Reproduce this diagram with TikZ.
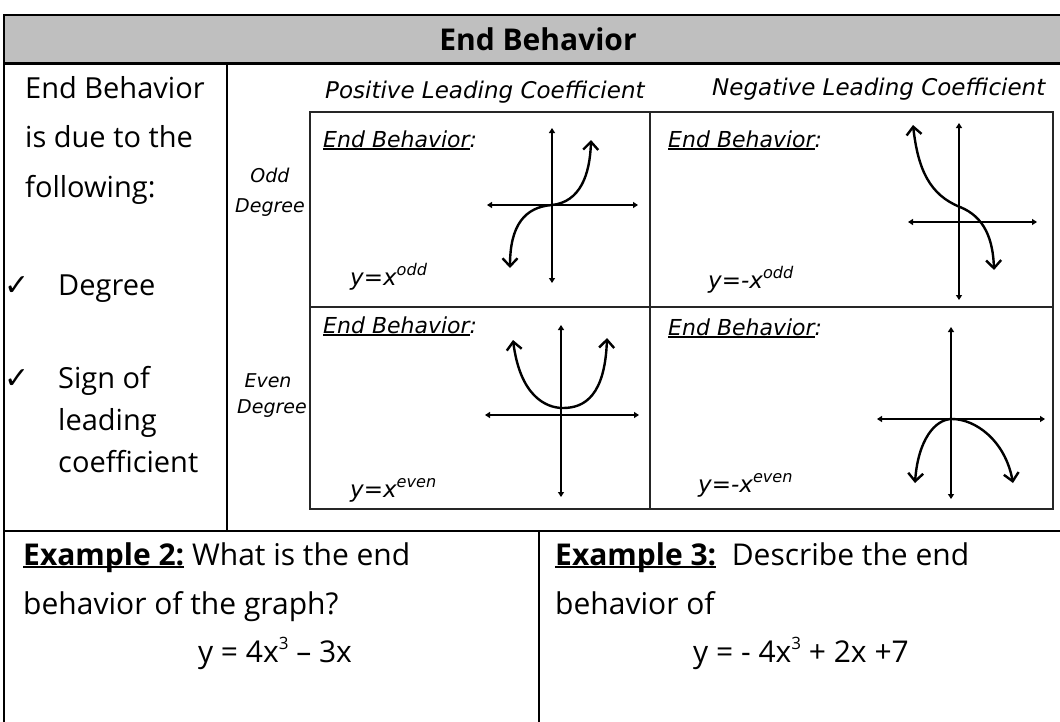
\documentclass[tikz,border=0pt]{standalone}
\usepackage{fontspec}
\setmainfont{Open Sans}
\newfontfamily\handfont{DejaVu Sans Oblique}
\newfontfamily\symfont{DejaVu Sans}
\usetikzlibrary{arrows.meta}
\definecolor{headgray}{HTML}{BFBFBF}
\newcommand{\ulx}[1]{\setbox0\hbox{#1}\rlap{\rule[-3pt]{\wd0}{1.6pt}}\box0}
\newcommand{\cube}{\raisebox{0.75ex}{\fontsize{17}{17}\selectfont 3}}

\begin{document}
\begin{tikzpicture}[
    x=1pt, y=-1pt,
    rule/.style={line width=2.4pt, black},
    gridline/.style={line width=2pt, black!85},
    axis/.style={line width=1.8pt, {Triangle[length=5pt,width=6pt]}-{Triangle[length=5pt,width=6pt]}},
    curve/.style={line width=2.4pt, {Straight Barb[length=8pt,width=15pt]}-{Straight Barb[length=8pt,width=15pt]}},
    body/.style={font=\fontsize{29}{34}\selectfont, anchor=base west, inner sep=0pt},
    chk/.style={font=\symfont\fontsize{30}{34}\selectfont, anchor=base west, inner sep=0pt},
    hand/.style={font=\handfont\fontsize{22}{26}\selectfont, inner sep=0pt},
    handsmall/.style={font=\handfont\fontsize{19}{23}\selectfont, anchor=base, inner sep=0pt}
]
    \useasboundingbox (0,0) rectangle (1060,721);

    % Table frame
    \fill[headgray] (4,15) rectangle (1075,63.5);
    \draw[rule] (1075,15) -- (4,15) -- (4,730);
    \draw[rule] (4,63.5) -- (1075,63.5);
    \draw[rule] (4,531) -- (1075,531);
    \draw[rule] (227,63.5) -- (227,531);
    \draw[rule] (539,531) -- (539,730);

    % Title
    \node[font=\bfseries\fontsize{30}{36}\selectfont, anchor=base, inner sep=0pt] (title) at (538,50) {End Behavior};

    % Left column
    \node[body] (l1) at (25,98) {End Behavior};
    \node[body] (l2) at (25,147) {is due to the};
    \node[body] (l3) at (25,197) {following:};
    \node[chk] (c1) at (4,295) {✓};
    \node[body] (l4) at (58,295) {Degree};
    \node[chk] (c2) at (4,388) {✓};
    \node[body] (l5) at (58,388) {Sign of};
    \node[body] (l6) at (58,430) {leading};
    \node[body] (l7) at (58,472) {coefficient};

    % Inner grid
    \draw[gridline] (310,112) rectangle (1053,509);
    \draw[gridline] (650,112) -- (650,509);
    \draw[gridline] (310,307) -- (1053,307);

    % Row and column headings
    \node[hand, font=\handfont\fontsize{23}{27}\selectfont, anchor=base west] (pos) at (325,98) {Positive Leading Coefficient};
    \node[hand, font=\handfont\fontsize{23}{27}\selectfont, anchor=base west] (neg) at (712,95) {Negative Leading Coefficient};
    \node[handsmall] (odd) at (270,182) {Odd};
    \node[handsmall] (odddeg) at (270,212) {Degree};
    \node[handsmall] (even) at (268,387) {Even};
    \node[handsmall] (evendeg) at (272,413) {Degree};

    % Cell labels
    \node[hand, anchor=base west] (eb1) at (323,147) {\ulx{End Behavior}:};
    \node[hand, anchor=base west] (eb2) at (668,147) {\ulx{End Behavior}:};
    \node[hand, anchor=base west] (eb3) at (323,333) {\ulx{End Behavior}:};
    \node[hand, anchor=base west] (eb4) at (668,335) {\ulx{End Behavior}:};
    \node[hand, font=\handfont\fontsize{23}{27}\selectfont, anchor=base west] (f1) at (350,285) {y=x\textsuperscript{odd}};
    \node[hand, font=\handfont\fontsize{23}{27}\selectfont, anchor=base west] (f2) at (708,288) {y=-x\textsuperscript{odd}};
    \node[hand, font=\handfont\fontsize{23}{27}\selectfont, anchor=base west] (f3) at (350,497) {y=x\textsuperscript{even}};
    \node[hand, font=\handfont\fontsize{23}{27}\selectfont, anchor=base west] (f4) at (698,492) {y=-x\textsuperscript{even}};

    % Graphs
    \draw[axis] (487,205) -- (638,205);
    \draw[axis] (552,128) -- (552,283);
    \draw[curve] (510,268) .. controls (510,225) and (525,207) .. (552,205) .. controls (580,202) and (590,175) .. (591,140);

    \draw[axis] (908,222) -- (1037,222);
    \draw[axis] (959,123) -- (959,300);
    \draw[curve] (913,125) .. controls (918,170) and (930,195) .. (960,207) .. controls (985,217) and (993,240) .. (994,270);

    \draw[axis] (485,415) -- (639,415);
    \draw[axis] (561,325) -- (561,497);
    \draw[curve] (513,340) .. controls (520,395) and (545,408) .. (563,408) .. controls (585,408) and (605,395) .. (607,338);

    \draw[axis] (877,419) -- (1045,419);
    \draw[axis] (951,327) -- (951,499);
    \draw[curve] (915,483) .. controls (918,440) and (935,419) .. (952,419) .. controls (975,419) and (1005,440) .. (1013,483);

    % Examples
    \node[body, font=\fontsize{30}{36}\selectfont] (ex2a) at (23,565) {\textbf{\ulx{Example 2:}} What is the end};
    \node[body, font=\fontsize{30}{36}\selectfont] (ex2b) at (23,614) {behavior of the graph?};
    \node[body, font=\fontsize{30}{36}\selectfont, anchor=base] (eq2) at (275,662) {y = 4x\cube{} – 3x};
    \node[body, font=\fontsize{30}{36}\selectfont] (ex3a) at (555,565) {\textbf{\ulx{Example 3:}}\ \ Describe the end};
    \node[body, font=\fontsize{30}{36}\selectfont] (ex3b) at (555,614) {behavior of};
    \node[body, font=\fontsize{30}{36}\selectfont, anchor=base] (eq3) at (801,662) {y = - 4x\cube{} + 2x +7};
\end{tikzpicture}
\end{document}
